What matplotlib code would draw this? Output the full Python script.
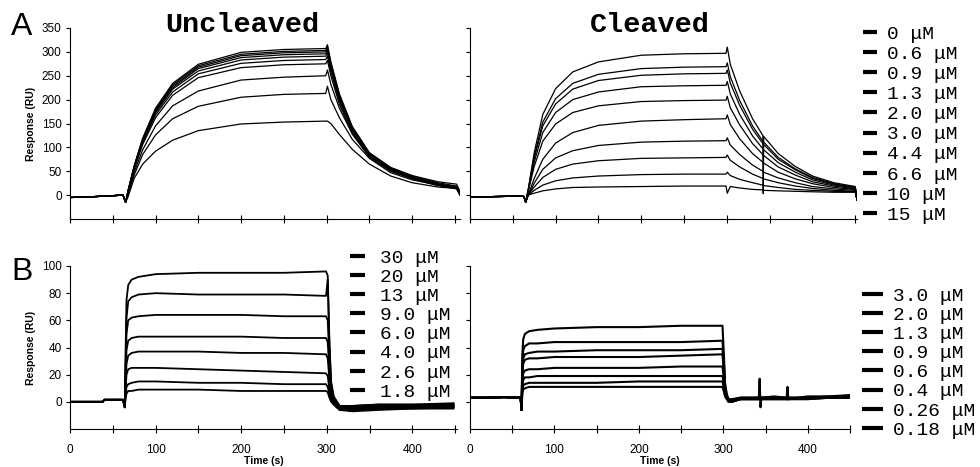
import matplotlib
matplotlib.use("Agg")
import matplotlib.pyplot as plt
from matplotlib.lines import Line2D
from matplotlib.font_manager import FontProperties

# ---- data ----
# Panel A, uncleaved (time in s, response in RU)
t_a_unc = [0, 30, 62, 65, 68, 75, 85, 100, 120, 150, 200, 250, 299, 301, 305,
           315, 330, 350, 375, 400, 430, 452, 456]
resp_a_unc = [
    [-5, -3, 0, -15, 10, 61, 119, 182, 234, 274, 299, 305, 307, 315, 279, 212, 144, 89, 58, 41, 28, 23, 8],
    [-5, -3, 0, -15, 10, 60, 118, 179, 231, 271, 295, 301, 303, 312, 276, 209, 142, 88, 57, 40, 26, 19, 5],
    [-5, -3, 0, -15, 10, 60, 116, 177, 228, 268, 292, 298, 300, 308, 273, 207, 141, 87, 56, 38, 24, 17, 4],
    [-5, -3, 0, -15, 9, 59, 115, 175, 225, 265, 288, 294, 296, 303, 269, 204, 139, 86, 55, 37, 23, 16, 3],
    [-5, -3, 0, -15, 9, 58, 113, 172, 222, 260, 283, 289, 291, 298, 265, 201, 137, 84, 54, 36, 22, 15, 2],
    [-5, -3, 0, -15, 8, 56, 110, 168, 216, 254, 276, 282, 284, 291, 258, 196, 133, 82, 53, 35, 21, 14, 1],
    [-5, -3, 0, -15, 8, 54, 106, 162, 209, 246, 267, 273, 275, 282, 250, 190, 129, 80, 51, 34, 20, 13, 0],
    [-5, -3, 0, -15, 4, 48, 95, 145, 187, 218, 241, 247, 250, 262, 232, 182, 128, 80, 50, 35, 22, 17, 2],
    [-5, -3, 0, -15, 1, 42, 85, 126, 160, 186, 205, 211, 213, 228, 200, 162, 117, 77, 47, 32, 21, 17, 2],
    [-5, -3, 0, -15, -3, 35, 65, 92, 115, 135, 149, 153, 155, 155, 150, 127, 96, 65, 40, 26, 17, 14, 0],
]

# Panel A, cleaved (the dip at 342.5 s is an injection artefact seen on the top trace)
t_a_cl = [0, 30, 60, 63, 65, 68, 75, 85, 100, 120, 150, 200, 250, 299, 300.5,
          304, 315, 330, 342, 342.5, 343, 360, 380, 400, 425, 450, 452]
resp_a_cl = [
    [-4, -3, -2, -3, -15, 12, 89, 169, 223, 258, 279, 293, 296, 297, 310, 274, 218, 160, 125, 3, 123, 87, 60, 40, 26, 18, -10],
    [-4, -3, -2, -3, -15, 11, 81, 153, 202, 234, 253, 265, 268, 269, 277, 248, 198, 145, 113, 112, 111, 79, 55, 37, 24, 16, -10],
    [-4, -3, -2, -3, -15, 10, 77, 145, 191, 222, 240, 251, 254, 255, 262, 235, 188, 138, 108, 107, 106, 75, 53, 35, 23, 16, -10],
    [-4, -3, -2, -3, -15, 9, 69, 131, 173, 200, 216, 227, 229, 230, 238, 212, 169, 124, 97, 96, 95, 68, 48, 32, 21, 15, -10],
    [-4, -3, -2, -3, -15, 8, 60, 113, 149, 173, 187, 196, 198, 199, 207, 183, 147, 108, 85, 84, 83, 59, 42, 28, 19, 13, -10],
    [-4, -3, -2, -3, -15, 0, 35, 75, 109, 131, 146, 155, 158, 160, 168, 148, 118, 87, 69, 68, 67, 48, 34, 24, 16, 12, -10],
    [-4, -3, -2, -3, -15, 0, 25, 54, 78, 93, 104, 111, 113, 114, 120, 105, 85, 63, 50, 49, 48, 36, 26, 18, 13, 10, -10],
    [-4, -3, -2, -3, -15, 0, 17, 37, 54, 65, 72, 77, 78, 79, 84, 73, 59, 44, 35, 34, 34, 26, 19, 14, 10, 8, -10],
    [-4, -3, -2, -3, -15, 0, 10, 21, 30, 36, 40, 43, 44, 44, 48, 41, 33, 26, 21, 20, 20, 16, 12, 10, 8, 7, -10],
    [-4, -3, -2, -3, -15, 0, 4, 9, 13, 16, 17, 18, 19, 19, 4, 18, 15, 12, 11, 10, 10, 9, 8, 7, 6, 6, -10],
]

# Panel B, uncleaved
t_b_unc = [0, 38, 40, 62, 64, 65, 66, 68, 72, 80, 100, 150, 200, 250, 299, 301,
           303, 305, 308, 315, 330, 360, 400, 448]
resp_b_unc = [
    [0, 0, 1.5, 1.5, -4, 40, 75, 86, 90, 92, 94, 95, 95, 95, 96, 93, 45, 15, 4, -3, -3, -2, -2, -1],
    [0, 0, 1.5, 1.5, -4, 30, 62, 74, 77, 79, 80, 79, 79, 79, 78, 90, 40, 13, 3, -3, -3, -2, -2, -2],
    [0, 0, 1.5, 1.5, -4, 25, 50, 60, 62, 63, 64, 64, 64, 63, 63, 60, 30, 10, 2, -4, -4, -3, -3, -2],
    [0, 0, 1.5, 1.5, -4, 18, 38, 45, 47, 48, 48, 48, 48, 47, 47, 44, 22, 7, 1, -4, -4, -4, -3, -3],
    [0, 0, 1.5, 1.5, -4, 14, 28, 34, 36, 37, 37, 37, 36, 36, 35, 32, 16, 5, 0, -5, -5, -4, -4, -3],
    [0, 0, 1.5, 1.5, -4, 10, 20, 24, 25, 25, 25, 24, 23, 22, 21, 19, 9, 3, -1, -5, -6, -5, -4, -4],
    [0, 0, 1.5, 1.5, -4, 6, 11, 13, 14, 15, 15, 14, 14, 13, 13, 11, 5, 1, -2, -6, -6, -5, -5, -4],
    [0, 0, 1.5, 1.5, -4, 3, 6, 8, 8, 9, 9, 9, 8, 8, 8, 7, 3, 0, -2, -6, -7, -6, -5, -5],
]

# Panel B, cleaved
t_b_cl = [0, 20, 40, 58, 60, 61, 62, 63, 65, 70, 80, 100, 150, 200, 250, 299,
          301, 302, 304, 306, 310, 320, 342, 343, 344, 345, 360, 375, 376, 377,
          400, 425, 450]
resp_b_cl = [
    [3, 3, 3.5, 3, 3, -6, 35, 46, 50, 52, 53, 54, 55, 55, 56, 56, 30, 14, 6, 2, 1, 3, 3, 17, -4, 3, 4, 3, 11, 2, 4, 4, 5],
    [3, 3, 3.5, 3, 3, -6, 28, 38, 41, 43, 43, 44, 44, 44, 44, 45, 25, 12, 5, 2, 2, 3, 3, 3, 3, 3, 3, 3, 3, 3, 3, 3, 4],
    [3, 3, 3.5, 3, 3, -6, 24, 32, 35, 36, 37, 37, 38, 38, 38, 39, 21, 10, 4, 1, 1, 2, 2, 2, 2, 2, 3, 2, 2, 2, 3, 3, 3],
    [3, 3, 3.5, 3, 3, -6, 21, 28, 31, 32, 32, 33, 33, 33, 34, 35, 19, 9, 4, 1, 1, 2, 3, 3, 3, 3, 3, 3, 3, 3, 3, 3, 4],
    [3, 3, 3.5, 3, 3, -6, 16, 21, 23, 24, 24, 25, 25, 25, 26, 26, 15, 7, 3, 1, 1, 3, 3, 3, 3, 3, 3, 3, 3, 3, 3, 4, 4],
    [3, 3, 3.5, 3, 3, -6, 12, 16, 18, 18, 19, 19, 19, 19, 19, 19, 11, 6, 3, 1, 0, 2, 2, 2, 2, 2, 2, 2, 2, 2, 2, 3, 3],
    [3, 3, 3.5, 3, 3, -6, 9, 12, 13, 14, 14, 14, 14, 15, 15, 15, 9, 5, 3, 1, 0, 2, 2, 2, 2, 2, 2, 2, 2, 2, 3, 3, 3],
    [3, 3, 3.5, 3, 3, -6, 7, 9, 10, 11, 11, 11, 11, 11, 11, 11, 7, 4, 2, 0, 0, 2, 2, 2, 2, 2, 2, 2, 2, 2, 2, 3, 3],
]

conc_a = ["0 μM", "0.6 μM", "0.9 μM", "1.3 μM", "2.0 μM", "3.0 μM",
          "4.4 μM", "6.6 μM", "10 μM", "15 μM"]
conc_b_unc = ["30 μM", "20 μM", "13 μM", "9.0 μM", "6.0 μM", "4.0 μM",
              "2.6 μM", "1.8 μM"]
conc_b_cl = ["3.0 μM", "2.0 μM", "1.3 μM", "0.9 μM", "0.6 μM", "0.4 μM",
             "0.26 μM", "0.18 μM"]

W, H = 980, 467
SANS = "Liberation Sans"
MONO = "Liberation Mono"

fig = plt.figure(figsize=(W / 100, H / 100), dpi=100)


def px_axes(left, top, right, bottom):
    """Axes placed by pixel edges of the reference picture"""
    return fig.add_axes([left / W, 1 - bottom / H, (right - left) / W, (bottom - top) / H])


def style_axes(ax, xmax, ylim, yticks, ylabels, xlabels):
    ax.set_xlim(0, xmax)
    ax.set_ylim(*ylim)
    for s in ("top", "right"):
        ax.spines[s].set_visible(False)
    ax.spines["left"].set_linewidth(0.8)
    ax.spines["bottom"].set_linewidth(0.8)
    xt = list(range(0, 451, 50))
    ax.set_xticks(xt)
    if xlabels:
        ax.set_xticklabels([str(v) if v % 100 == 0 and v < 450 else "" for v in xt])
    else:
        ax.set_xticklabels([])
    ax.set_yticks(yticks)
    ax.set_yticklabels([str(v) for v in yticks] if ylabels else [])
    ax.tick_params(axis="x", direction="inout", length=6, width=0.8, pad=8, labelsize=8.5)
    ax.tick_params(axis="y", direction="out", length=3, width=0.8, pad=3, labelsize=8.5)
    for lab in ax.get_xticklabels() + ax.get_yticklabels():
        lab.set_family(SANS)


axA1 = px_axes(70, 28, 460, 219)
axA2 = px_axes(470, 28, 857, 219)
axB1 = px_axes(70, 266, 457, 429)
axB2 = px_axes(470, 266, 850, 429)

for y in resp_a_unc:
    axA1.plot(t_a_unc, y, color="black", lw=0.9)
for y in resp_a_cl:
    axA2.plot(t_a_cl, y, color="black", lw=0.9)
for y in resp_b_unc:
    axB1.plot(t_b_unc, y, color="black", lw=1.3)
for y in resp_b_cl:
    axB2.plot(t_b_cl, y, color="black", lw=1.5)

yt_a = list(range(0, 351, 50))
yt_b = list(range(0, 101, 20))
style_axes(axA1, 456, (-50, 350), yt_a, True, False)
style_axes(axA2, 452, (-50, 350), yt_a, False, False)
style_axes(axB1, 452, (-20, 100), yt_b, True, True)
style_axes(axB2, 444, (-20, 100), yt_b, False, True)

for ax in (axA1, axB1):
    ax.set_ylabel("Response (RU)", fontsize=7.5, fontweight="bold", family=SANS, labelpad=4)
for ax in (axB1, axB2):
    ax.set_xlabel("Time (s)", fontsize=7.5, fontweight="bold", family=SANS, labelpad=0)

# panel letters and titles
fig.text(11 / W, 1 - 27 / H, "A", fontsize=23, family=SANS, va="center", ha="left")
fig.text(11 / W, 1 - 272 / H, "B", fontsize=23, family=SANS, va="center", ha="left")
fig.text(242 / W, 1 - 25 / H, "Uncleaved", fontsize=20.5, family=MONO,
         fontweight="bold", ha="center", va="center")
fig.text(650 / W, 1 - 25 / H, "Cleaved", fontsize=20.5, family=MONO,
         fontweight="bold", ha="center", va="center")

# concentration legends
leg_font = FontProperties(family=MONO, size=14)


def conc_legend(ax, labels, left, top, hlen, pad, spacing):
    handles = [Line2D([], [], color="black", lw=3, solid_capstyle="butt") for _ in labels]
    leg = ax.legend(handles, labels, loc="upper left",
                    bbox_to_anchor=(left / W, 1 - top / H),
                    bbox_transform=fig.transFigure, frameon=False, prop=leg_font,
                    handlelength=hlen, handletextpad=pad, labelspacing=spacing,
                    borderpad=0, borderaxespad=0)
    return leg


conc_legend(axA2, conc_a, 863, 25, 0.72, 0.5, 0.13)
conc_legend(axB1, conc_b_unc, 350, 249, 0.77, 0.77, 0.08)
conc_legend(axB2, conc_b_cl, 862, 287, 1.08, 0.5, 0.08)

fig.savefig("out.png", dpi=100)
